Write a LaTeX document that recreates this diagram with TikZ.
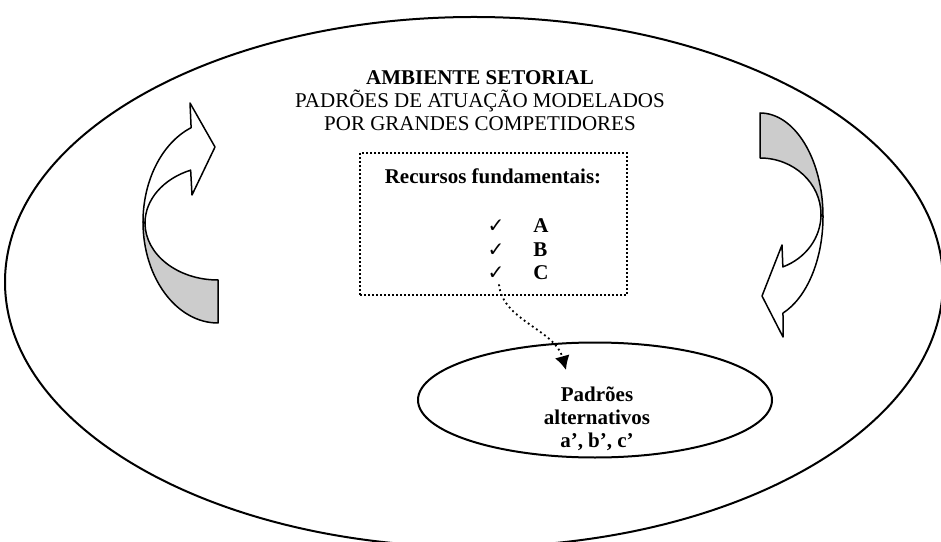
\documentclass[tikz,border=0pt]{standalone}
\usepackage{fontspec}
\setmainfont{Liberation Serif}
\newfontfamily\symbfont{DejaVu Sans}
\usetikzlibrary{shapes.geometric, arrows.meta}
\tikzstyle{txt} = [font=\fontsize{10.5}{11.5}\selectfont, inner sep=0pt, align=center]
\tikzstyle{txtb} = [txt, font=\fontsize{10.5}{11.5}\selectfont\bfseries]
\tikzstyle{arr} = [draw=black, fill=white, line width=0.75pt, line join=round]
\tikzstyle{band} = [draw=black, fill=gray!40, line width=0.75pt, line join=round]
\tikzstyle{dots} = [line width=1pt, dash pattern=on 1pt off 1pt]
\newcommand{\chk}{{\symbfont\fontsize{10}{11}\selectfont ✓}}

\begin{document}
\begin{tikzpicture}[x=0.5pt,y=0.5pt]
	\useasboundingbox (0,0) rectangle (941,541);
	\draw[line width=1pt] (474,259) ellipse[x radius=469, y radius=265];
	\node[txt, anchor=base] (amb) at (480,410) {\textbf{AMBIENTE SETORIAL}\\PADRÕES DE ATUAÇÃO MODELADOS\\POR GRANDES COMPETIDORES};
	% left arrow
	\draw[band] (145,318) arc[start angle=180, end angle=270, x radius=73, y radius=57] -- (218,218) arc[start angle=270, end angle=180, x radius=75, y radius=101] -- cycle;
	\draw[arr] (143,319) arc[start angle=180, end angle=111, x radius=75, y radius=101] -- (190,438) -- (215,394) -- (192,346) -- (190.65,370.85) arc[start angle=112, end angle=180, x radius=73, y radius=57] -- cycle;
	% right arrow
	\draw[band] (760,428) arc[start angle=90, end angle=0, x radius=63, y radius=103.6] -- (821,326.5) arc[start angle=0, end angle=90, x radius=61, y radius=56.5] -- cycle;
	\draw[arr] (823,324.4) arc[start angle=0, end angle=-68.6, x radius=63, y radius=103.6] -- (783,204) -- (762,245) -- (782,296) -- (782.85,274.1) arc[start angle=-68, end angle=0, x radius=61, y radius=56.5] -- cycle;
	% recursos
	\node[draw, dots, minimum width=133.5pt, minimum height=71pt, inner sep=0pt] (recbox) at (493.5,317) {};
	\node[txtb, anchor=base] (rec) at (493,357) {Recursos fundamentais:};
	\foreach \l [count=\i] in {A,B,C} {
		\node[txt, anchor=base] (chk\l) at (496,{308-23.5*(\i-1)}) {\chk};
		\node[txtb, anchor=base west] (res\l) at (533,{308-23.5*(\i-1)}) {\l};
	}
	% padroes alternativos
	\node[draw, ellipse, line width=1pt, minimum width=177pt, minimum height=57.5pt, inner sep=0pt] (alt) at (595,141) {};
	\node[txtb, anchor=base] (alttxt) at (597,94) {Padrões\\alternativos\\a’, b’, c’};
	\coordinate (tip) at (566,171);
	\draw[line width=0.9pt, dash pattern=on 0.9pt off 1.6pt, -{Latex[length=7pt,width=7.5pt]}] ([xshift=1.5pt,yshift=-2pt]chkC.south) .. controls (502,221) and (555,211) .. (tip);
\end{tikzpicture}
\end{document}
